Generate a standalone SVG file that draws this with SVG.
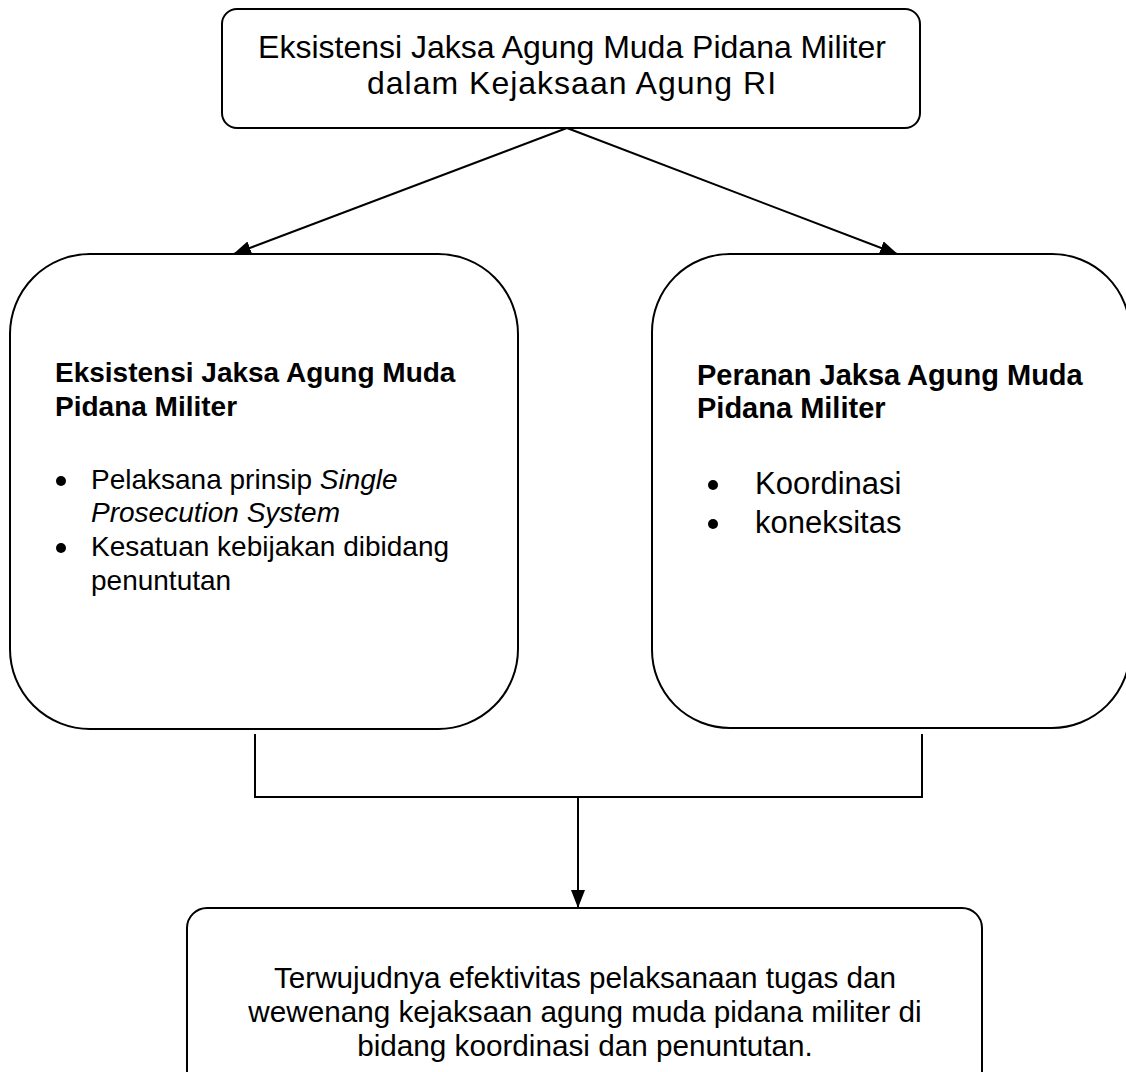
<svg xmlns="http://www.w3.org/2000/svg" width="1126" height="1072" viewBox="0 0 1126 1072">
<defs>
<style>
.box{fill:#fff;stroke:#000;stroke-width:2}
.ln{fill:none;stroke:#000;stroke-width:2}
.t{font-family:"Liberation Sans",Arial,sans-serif;fill:#000}
.b{font-weight:bold}
</style>
<marker id="ah" markerUnits="userSpaceOnUse" markerWidth="18" markerHeight="14" viewBox="0 0 18 14" refX="17" refY="7" orient="auto">
<path d="M0,0 L18,7 L0,14 z" fill="#000"/>
</marker>
</defs>
<rect width="1126" height="1072" fill="#fff"/>
<g id="connectors">
<line class="ln" x1="567" y1="128" x2="234" y2="254" marker-end="url(#ah)"/>
<line class="ln" x1="567" y1="128" x2="897" y2="254" marker-end="url(#ah)"/>
<polyline class="ln" points="255,734 255,797 922,797 922,734"/>
<line class="ln" x1="578" y1="797" x2="578" y2="907" marker-end="url(#ah)"/>
</g>
<g id="top">
<rect class="box" x="222" y="9" width="698" height="119" rx="15"/>
<text class="t" font-size="32" text-anchor="middle" x="572" y="58">Eksistensi Jaksa Agung Muda Pidana Militer</text>
<text class="t" font-size="32" text-anchor="middle" x="572" y="94" letter-spacing="1">dalam Kejaksaan Agung RI</text>
</g>
<g id="left">
<rect class="box" x="10" y="254" width="508" height="475" rx="80"/>
<text class="t b" font-size="28" x="55" y="382">Eksistensi Jaksa Agung Muda</text>
<text class="t b" font-size="28" x="55" y="416">Pidana Militer</text>
<circle cx="61" cy="481" r="5"/>
<text class="t" font-size="28" x="91" y="489">Pelaksana prinsip <tspan font-style="italic">Single</tspan></text>
<text class="t" font-size="28" x="91" y="522" font-style="italic">Prosecution System</text>
<circle cx="61" cy="548" r="5"/>
<text class="t" font-size="28" x="91" y="556">Kesatuan kebijakan dibidang</text>
<text class="t" font-size="28" x="91" y="590">penuntutan</text>
</g>
<g id="right">
<rect class="box" x="652" y="254" width="478" height="474" rx="78"/>
<text class="t b" font-size="29" x="697" y="385">Peranan Jaksa Agung Muda</text>
<text class="t b" font-size="29" x="697" y="418">Pidana Militer</text>
<circle cx="713" cy="485" r="5"/>
<text class="t" font-size="31" x="755" y="494">Koordinasi</text>
<circle cx="713" cy="524" r="5"/>
<text class="t" font-size="31" x="755" y="533">koneksitas</text>
</g>
<g id="bottom">
<rect class="box" x="187" y="908" width="795" height="220" rx="20"/>
<text class="t" font-size="29.7" text-anchor="middle" x="585" y="988">Terwujudnya efektivitas pelaksanaan tugas dan</text>
<text class="t" font-size="29.7" text-anchor="middle" x="585" y="1022">wewenang kejaksaan agung muda pidana militer di</text>
<text class="t" font-size="29.7" text-anchor="middle" x="585" y="1056">bidang koordinasi dan penuntutan.</text>
</g>
</svg>
